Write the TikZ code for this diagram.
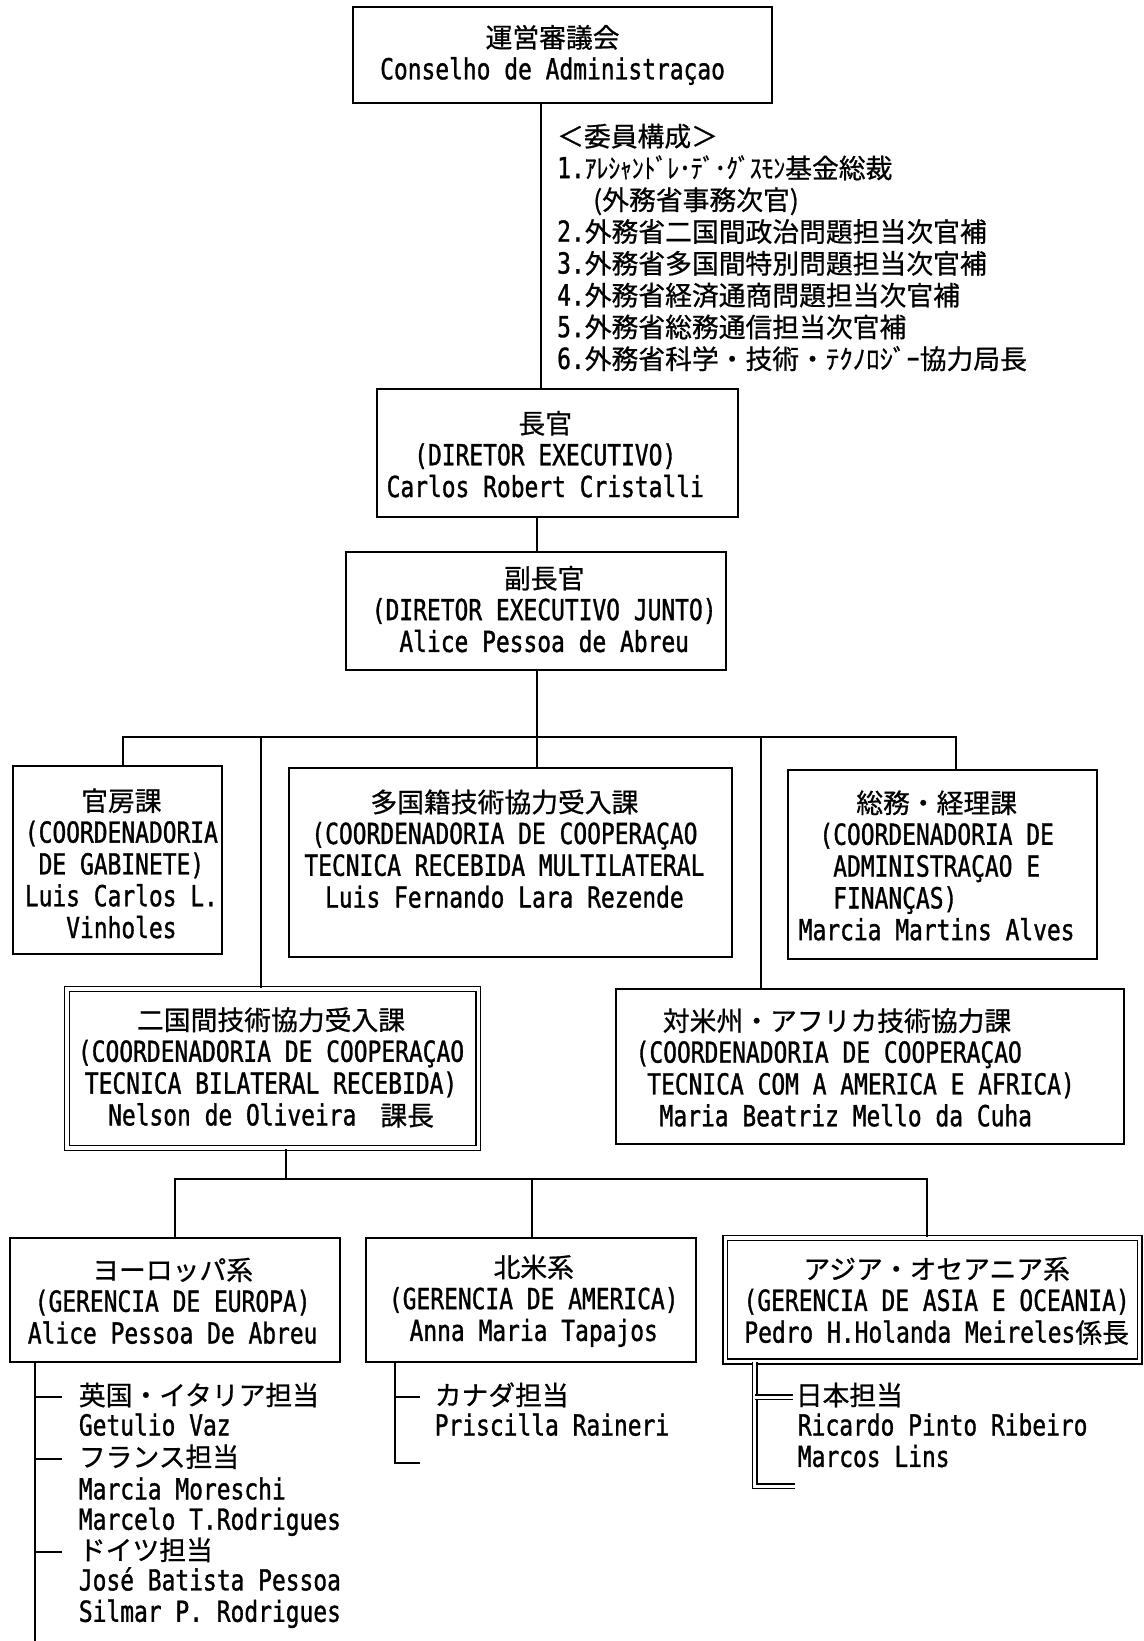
\documentclass[tikz,border=0pt]{standalone}
\usepackage{fontspec}
\usepackage{graphicx}
\usetikzlibrary{fit}
% condensed typewriter-like Latin face and a Japanese face
\newfontfamily\latf[FakeStretch=0.79, FakeBold=1.1]{DejaVu Sans Mono}
\newfontfamily\jpf[FakeBold=0.7]{Noto Sans CJK JP}
\newcommand\lat{\latf\fontsize{14.5}{15.9}\selectfont}
\newcommand\jp{\jpf\fontsize{13.4}{15.9}\selectfont}

\tikzset{
  box/.style={draw, line width=1pt, rectangle, inner sep=0pt},
  dbox/.style={box, line width=0.8pt, double, double distance=1.6pt},
  txt/.style={align=center, inner sep=0pt, font=\lat},
  lst/.style={anchor=west, inner sep=0pt, font=\lat, text height=11pt, text depth=3pt},
  conn/.style={line width=1pt},
  dconn/.style={line width=0.8pt, double, double distance=1.4pt},
}

\begin{document}
\begin{tikzpicture}[x=0.5233pt, y=-0.5233pt]
\fill[white] (0,0) rectangle (1093,1568);
\useasboundingbox (0,0) rectangle (1093,1568);

% ---------- boxes ----------
\node[box, fit={(337,7) (738,98)}]      (A) {};
\node[box, fit={(360,372) (705,494)}]   (B) {};
\node[box, fit={(331,527) (694,640)}]   (C) {};
\node[box, fit={(12,732) (212,912)}]    (D) {};
\node[box, fit={(276,734) (699,914)}]   (E) {};
\node[box, fit={(753,736) (1048,916)}]  (F) {};
\node[dbox, fit={(64,945) (457,1097)}]  (G) {};
\node[box, fit={(589,945) (1074,1093)}] (H) {};
\node[box, fit={(10,1183) (325,1301)}]  (I) {};
\node[box, fit={(350,1183) (665,1301)}] (J) {};
\node[dbox, fit={(693,1183) (1089,1301)}] (K) {};

% ---------- box texts ----------
\node[txt] (At) at (528,52.5) {{\jp 運営審議会}\\Conselho de Administraçao};
\node[txt] (Bt) at (521,434) {{\jp 長官}\\(DIRETOR EXECUTIVO)\\Carlos Robert Cristalli};
\node[txt] (Ct) at (520,582) {{\jp 副長官}\\(DIRETOR EXECUTIVO JUNTO)\\Alice Pessoa de Abreu};
\node[txt] (Dt) at (116,825) {{\jp 官房課}\\(COORDENADORIA\\DE GABINETE)\\Luis Carlos L.\\Vinholes};
\node[txt] (Et) at (482,811) {{\jp 多国籍技術協力受入課}\\(COORDENADORIA DE COOPERAÇAO\\TECNICA RECEBIDA MULTILATERAL\\Luis Fernando Lara Rezende};
\node[txt] (Ft) at (895,827) {{\jp 総務・経理課}\\(COORDENADORIA DE\\ADMINISTRAÇAO E\\FINANÇAS)\phantom{XXXXXX}\\Marcia Martins Alves};
\node[txt] (Gt) at (259,1020) {{\jp 二国間技術協力受入課}\\(COORDENADORIA DE COOPERAÇAO\\TECNICA BILATERAL RECEBIDA)\\Nelson de Oliveira\hspace{12pt}{\jp 課長}};
\node[txt, align=left, anchor=west] (Ht) at (607,1020) {\hspace*{13.6pt}{\jp 対米州・アフリカ技術協力課}\\(COORDENADORIA DE COOPERAÇAO\\\hspace*{5.8pt}TECNICA COM A AMERICA E AFRICA)\\\hspace*{12pt}Maria Beatriz Mello da Cuha};
\node[txt] (It) at (165,1243) {{\jp ヨーロッパ系}\\(GERENCIA DE EUROPA)\\Alice Pessoa De Abreu};
\node[txt] (Jt) at (510,1243) {{\jp 北米系}\\(GERENCIA DE AMERICA)\\Anna Maria Tapajos};
\node[txt] (Kt) at (895,1243) {{\jp アジア・オセアニア系}\\(GERENCIA DE ASIA E OCEANIA)\\Pedro H.Holanda Meireles{\jp 係長}};

% ---------- council members ----------
\node[txt, align=left, anchor=west] (M) at (532,236.5) {%
  {\jp ＜委員構成＞}\\
  1.{\jp \scalebox{0.88}[1]{ｱﾚｼｬﾝﾄﾞﾚ･ﾃﾞ･ｸﾞｽﾓﾝ}基金総裁}\\
  \hspace*{18pt}{\jp (外務省事務次官)}\\
  2.{\jp 外務省二国間政治問題担当次官補}\\
  3.{\jp 外務省多国間特別問題担当次官補}\\
  4.{\jp 外務省経済通商問題担当次官補}\\
  5.{\jp 外務省総務通信担当次官補}\\
  6.{\jp 外務省科学・技術・ﾃｸﾉﾛｼﾞｰ協力局長}};

% ---------- staff lists ----------
\node[lst] (e1) at (75,1335) {\jp 英国・イタリア担当};
\node[lst] (e2) at (75,1364) {Getulio Vaz};
\node[lst] (e3) at (75,1394) {\jp フランス担当};
\node[lst] (e4) at (75,1425) {Marcia Moreschi};
\node[lst] (e5) at (75,1454) {Marcelo T.Rodrigues};
\node[lst] (e6) at (75,1483) {\jp ドイツ担当};
\node[lst] (e7) at (75,1512) {José Batista Pessoa};
\node[lst] (e8) at (75,1542) {Silmar P. Rodrigues};

\node[lst] (n1) at (415,1335) {\jp カナダ担当};
\node[lst] (n2) at (415,1364) {Priscilla Raineri};

\node[lst] (s1) at (760,1335) {\jp 日本担当};
\node[lst] (s2) at (762,1364) {Ricardo Pinto Ribeiro};
\node[lst] (s3) at (762,1394) {Marcos Lins};

% ---------- connector routing points ----------
\coordinate (a1) at (517,0);
\coordinate (a2) at (513,0);
\coordinate (b1) at (118,704);
\coordinate (b2) at (249,704);
\coordinate (b3) at (513,704);
\coordinate (b4) at (727,704);
\coordinate (b5) at (913,704);
\coordinate (c0) at (273,1127);
\coordinate (c1) at (167,1127);
\coordinate (c2) at (508,1127);
\coordinate (c3) at (886,1127);
\coordinate (eS) at (33,1568);
\coordinate (nS) at (377,1398);
\coordinate (sS) at (721,1420);

% ---------- connectors ----------
\draw[conn] (A.south -| a1) -- (B.north -| a1);
\draw[conn] (B.south -| a2) -- (C.north -| a2);
\draw[conn] (C.south -| b3) -- (E.north -| b3);
\draw[conn] (D.north -| b1) -- (b1) -- (b5) -- (F.north -| b5);
\draw[conn] (b2) -- (G.north -| b2);
\draw[conn] (b4) -- (H.north -| b4);

\draw[conn] (G.south -| c0) -- (c0);
\draw[conn] (I.north -| c1) -- (c1) -- (c3) -- (K.north -| c3);
\draw[conn] (c2) -- (J.north -| c2);

% Europe desk tree
\draw[conn] (I.south -| eS) -- (eS);
\foreach \n in {e1,e3,e6}
  \draw[conn] (eS |- \n.west) -- ([xshift=-8pt]\n.west);
% North America desk tree
\draw[conn] (J.south -| nS) -- (nS) -- ([xshift=-7.3pt]n1.west |- nS);
\draw[conn] (nS |- n1.west) -- ([xshift=-7.3pt]n1.west);
% Asia desk tree (double rule)
\draw[dconn] (K.south -| sS) -- (sS) -- ([xshift=-1pt]s2.west |- sS);
\draw[dconn] (sS |- s1.west) -- ([xshift=-1pt]s1.west);
\end{tikzpicture}
\end{document}
